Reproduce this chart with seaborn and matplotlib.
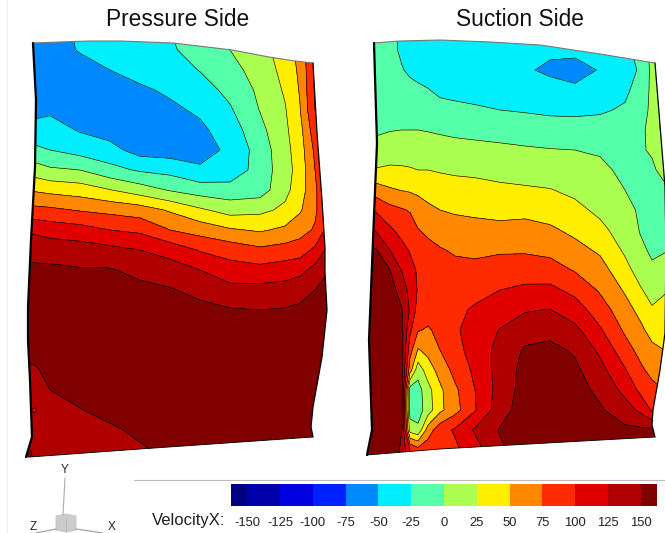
import numpy as np
import seaborn as sns
import matplotlib.pyplot as plt
from matplotlib.colors import ListedColormap
from matplotlib.patches import Polygon

rows_y = [30, 50, 70, 90, 110, 130, 150, 170, 190, 210, 230, 250, 270, 290, 310, 330, 350, 370, 390, 410, 430, 450, 470]

pressure_x = [20, 35, 50, 80, 110, 140, 170, 200, 230, 260, 285, 300, 315, 335]
pressure_v = [
    [-65, -65, -65, -63, -58, -42, -18, 15, 50, 85, 122, 142, 156, 166, 166, 162, 155, 147, 138, 130, 132, 155, 155],
    [-65, -65, -65, -63, -58, -40, -20, 12, 47, 82, 120, 141, 155, 165, 165, 162, 156, 148, 140, 123, 135, 148, 150],
    [-62, -62, -62, -60, -54, -40, -25, 4, 43, 80, 115, 139, 155, 165, 168, 165, 160, 155, 150, 142, 138, 138, 138],
    [-45, -48, -60, -65, -62, -52, -35, 0, 38, 73, 110, 137, 152, 160, 165, 165, 165, 165, 158, 149, 138, 135, 135],
    [-32, -38, -50, -62, -68, -60, -42, -17, 26, 68, 100, 132, 152, 160, 165, 167, 167, 167, 165, 158, 146, 135, 135],
    [-30, -32, -41, -54, -62, -62, -60, -28, 12, 62, 95, 125, 143, 157, 163, 167, 167, 167, 167, 165, 155, 147, 148],
    [-25, -27, -36, -46, -55, -62, -62, -33, -2, 47, 75, 115, 137, 152, 160, 167, 170, 170, 170, 168, 166, 155, 163],
    [-14, -19, -24, -36, -46, -55, -60, -46, -12, 29, 65, 98, 125, 143, 157, 165, 170, 170, 170, 170, 168, 165, 165],
    [3, 0, -8, -18, -28, -38, -45, -40, -15, 15, 53, 90, 110, 133, 152, 165, 170, 170, 170, 170, 168, 165, 165],
    [15, 15, 10, 5, 1, -7, -14, -15, -12, 19, 47, 80, 108, 133, 150, 163, 170, 170, 170, 170, 165, 160, 160],
    [38, 38, 33, 28, 23, 20, 17, 15, 18, 30, 55, 85, 113, 135, 152, 165, 170, 170, 170, 168, 165, 160, 160],
    [60, 58, 55, 52, 49, 42, 38, 35, 38, 47, 65, 88, 118, 140, 155, 165, 170, 170, 168, 165, 160, 155, 155],
    [105, 105, 104, 103, 100, 90, 80, 75, 70, 70, 78, 105, 133, 150, 157, 165, 165, 165, 165, 160, 155, 150, 150],
    [125, 125, 125, 125, 125, 125, 125, 125, 125, 120, 125, 145, 155, 165, 170, 170, 170, 170, 170, 165, 160, 155, 155],
]

suction_x = [360, 376, 390, 402, 410, 418, 428, 440, 455, 475, 500, 525, 550, 575, 600, 625, 640, 652, 670]
suction_v = [
    [-12, -12, -10, -8, -6, -3, 8, 30, 65, 100, 128, 155, 165, 170, 172, 172, 172, 172, 172, 170, 170, 170, 170],
    [-12, -12, -10, -8, -6, -3, 7, 27, 62, 97, 123, 152, 165, 170, 172, 172, 172, 172, 172, 170, 170, 170, 170],
    [-20, -20, -17, -12, -8, -1, 13, 29, 53, 83, 104, 125, 150, 160, 165, 168, 170, 170, 170, 170, 170, 168, 168],
    [-28, -28, -24, -17, -10, 0, 14, 28, 49, 77, 92, 107, 123, 140, 151, 155, 157, 157, 155, 150, 150, 145, 145],
    [-30, -32, -28, -20, -12, 0, 13, 27, 47, 73, 88, 98, 108, 116, 122, 105, 85, 60, -12, -12, 15, 100, 100],
    [-33, -34, -32, -21, -13, 0, 11, 25, 45, 62, 76, 88, 97, 98, 90, 77, 48, 10, -10, -12, 6, 85, 85],
    [-36, -38, -35, -24, -15, -1, 10, 25, 39, 56, 70, 82, 88, 90, 87, 72, 57, 38, 16, 13, 62, 90, 90],
    [-38, -40, -38, -30, -17, -3, 10, 23, 37, 50, 63, 77, 85, 88, 86, 82, 75, 59, 45, 44, 90, 90, 90],
    [-40, -42, -40, -31, -20, -5, 8, 21, 35, 47, 60, 72, 82, 88, 93, 96, 92, 83, 70, 66, 103, 95, 95],
    [-42, -44, -42, -33, -22, -6, 6, 20, 33, 45, 58, 71, 80, 90, 104, 112, 110, 105, 100, 98, 128, 115, 115],
    [-45, -47, -45, -37, -25, -9, 5, 17, 30, 42, 57, 72, 86, 100, 113, 126, 133, 135, 135, 140, 152, 145, 145],
    [-48, -50, -48, -39, -27, -12, 3, 15, 28, 42, 60, 72, 88, 105, 123, 139, 153, 158, 160, 162, 165, 165, 165],
    [-48, -47, -53, -44, -30, -13, 1, 13, 26, 39, 54, 68, 86, 106, 126, 143, 156, 162, 165, 167, 168, 168, 168],
    [-46, -46, -56, -47, -31, -13, 0, 9, 20, 31, 44, 58, 73, 93, 112, 131, 147, 155, 160, 165, 167, 167, 167],
    [-42, -43, -49, -42, -28, -15, -3, 6, 13, 20, 31, 46, 60, 72, 87, 103, 120, 133, 144, 153, 160, 160, 160],
    [-30, -30, -36, -30, -22, -15, -11, -6, 0, 7, 14, 21, 33, 47, 60, 71, 85, 102, 118, 136, 155, 155, 155],
    [-18, -18, -22, -15, -8, -3, -2, -4, -4, -3, -1, 4, 15, 28, 43, 56, 68, 80, 95, 120, 155, 155, 155],
    [8, 8, 6, 5, 4, 4, 2, -3, -7, -8, -6, -3, 3, 15, 28, 41, 56, 68, 82, 97, 155, 155, 155],
    [70, 70, 65, 60, 55, 50, 30, 10, 0, -3, -3, 0, 8, 25, 28, 38, 47, 58, 72, 90, 155, 155, 155],
]

pressure_edge_x = [33, 60, 90, 120, 173, 232, 269, 295, 313, 317, 322, 325, 325, 327, 322, 313, 311, 313, 140, 30, 26, 32, 30, 28, 28, 31, 35, 36]
pressure_edge_y = [43, 42, 41, 41, 43, 50, 57, 61, 63, 133, 200, 248, 273, 310, 357, 407, 427, 437, 449, 457, 457, 437, 380, 340, 307, 240, 167, 100]
suction_edge_x = [374, 400, 440, 490, 540, 600, 655, 660, 665, 666, 665, 660, 653, 652, 655, 440, 367, 372, 369, 373, 377]
suction_edge_y = [43, 41, 40, 42, 45, 54, 63, 125, 187, 250, 333, 370, 410, 425, 437, 449, 455, 430, 340, 240, 143]

levels = [-200, -150, -125, -100, -75, -50, -25, 0, 25, 50, 75, 100, 125, 150, 250]
tick_labels = ['-150', '-125', '-100', '-75', '-50', '-25', '0', '25', '50', '75', '100', '125', '150']
band_colors = ['#000080', '#0000aa', '#0000e0', '#0020ff', '#0088ff', '#00eeff', '#55ffaa',
               '#aaff50', '#ffee00', '#ff8800', '#ff2b00', '#e00000', '#b00000', '#800000']

sns.set_theme(style='white')
plt.rcParams['font.family'] = ['Liberation Sans', 'DejaVu Sans']

fig = plt.figure(figsize=(6.65, 5.33), dpi=100)
ax = fig.add_axes([0, 0, 1, 1])
ax.set_xlim(0, 665)
ax.set_ylim(533, 0)
ax.axis('off')


def draw_side(x, values, edge_x, edge_y, n_top, n_right, n_bottom):
    field = np.array(values, dtype=float).T
    cs = ax.contourf(x, rows_y, field, levels=levels, colors=band_colors)
    lines = ax.contour(x, rows_y, field, levels=levels[1:-1], colors='black',
                       linewidths=0.45, negative_linestyles='solid')
    outline = Polygon(np.column_stack([edge_x, edge_y]), closed=True, transform=ax.transData,
                      facecolor='none', edgecolor='none')
    ax.add_patch(outline)
    cs.set_clip_path(outline)
    lines.set_clip_path(outline)
    # grey top, black sides, thin bottom
    ax.plot(edge_x[:n_top], edge_y[:n_top], color='#777777', lw=0.8)
    ax.plot(edge_x[n_top - 1:n_right], edge_y[n_top - 1:n_right], color='black', lw=0.9)
    ax.plot(edge_x[n_right - 1:n_bottom], edge_y[n_right - 1:n_bottom], color='black', lw=0.6)
    ax.plot(edge_x[n_bottom - 1:] + edge_x[:1], edge_y[n_bottom - 1:] + edge_y[:1], color='black', lw=1.6)


draw_side(pressure_x, pressure_v, pressure_edge_x, pressure_edge_y, 9, 18, 21)
draw_side(suction_x, suction_v, suction_edge_x, suction_edge_y, 7, 15, 17)

ax.text(178, 19, 'Pressure Side', ha='center', va='center', fontsize=16.4, color='#111111')
ax.text(520, 19, 'Suction Side', ha='center', va='center', fontsize=16.4, color='#111111')

# frame lines and the axis triad
ax.plot([7, 7], [0, 533], color='#eeeeee', lw=0.8)
ax.plot([134, 665], [480, 480], color='#bbbbbb', lw=0.8)
ax.plot([65, 63], [478, 515], color='#aaaaaa', lw=0.8)
ax.plot([36, 56], [533, 529], color='#999999', lw=0.8)
ax.plot([76, 103], [529, 533], color='#999999', lw=0.8)
ax.add_patch(Polygon([[56, 516], [66, 514], [76, 516], [76, 530], [66, 532], [56, 530]], facecolor='#cccccc', edgecolor='#bbbbbb', lw=0.5))
ax.plot([66, 66], [517, 532], color='#b5b5b5', lw=0.6)
ax.text(65, 470, 'Y', ha='center', va='center', fontsize=8.5, color='#222222')
ax.text(33, 527, 'Z', ha='center', va='center', fontsize=8.5, color='#222222')
ax.text(112, 527, 'X', ha='center', va='center', fontsize=8.5, color='#222222')
ax.text(152, 520, 'VelocityX:', ha='left', va='center', fontsize=12, color='#222222')

# colour legend, end bands are half width
cax = fig.add_axes([231 / 665, 1 - 506 / 533, 426 / 665, 22 / 533])
sns.heatmap(np.arange(14).reshape(1, -1), cmap=ListedColormap(sns.color_palette(band_colors)), cbar=False, ax=cax)
cax.set_xlim(0.5, 13.5)
cax.set_yticks([])
cax.set_xticks(np.arange(1, 14))
cax.set_xticklabels(tick_labels, rotation=0, fontsize=9.4, color='#222222')
cax.tick_params(axis='x', length=0, pad=8)

fig.savefig('out.png', dpi=100)
